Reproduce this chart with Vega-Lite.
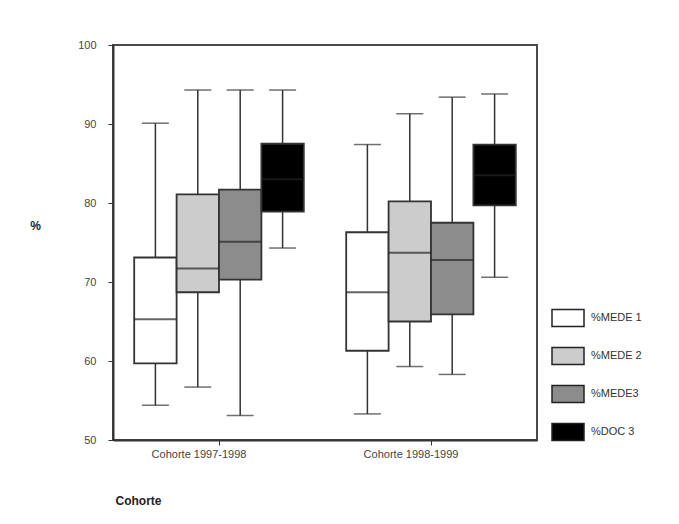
{
  "$schema": "https://vega.github.io/schema/vega-lite/v6.json",
  "width": 424,
  "height": 395,
  "autosize": {"type": "none"},
  "padding": {"left": 113, "top": 45, "right": 142, "bottom": 84},
  "background": "white",
  "config": {
    "font": "Liberation Sans",
    "view": {"stroke": "#4a4a4a", "strokeWidth": 2}
  },
  "data": {
    "values": [
      {"cohorte": "Cohorte 1997-1998", "serie": "%MEDE 1", "min": 54.4, "q1": 59.7, "median": 65.3, "q3": 73.1, "max": 90.1},
      {"cohorte": "Cohorte 1997-1998", "serie": "%MEDE 2", "min": 56.7, "q1": 68.7, "median": 71.7, "q3": 81.1, "max": 94.3},
      {"cohorte": "Cohorte 1997-1998", "serie": "%MEDE3", "min": 53.1, "q1": 70.3, "median": 75.1, "q3": 81.7, "max": 94.3},
      {"cohorte": "Cohorte 1997-1998", "serie": "%DOC 3", "min": 74.3, "q1": 78.9, "median": 83.0, "q3": 87.5, "max": 94.3},
      {"cohorte": "Cohorte 1998-1999", "serie": "%MEDE 1", "min": 53.3, "q1": 61.3, "median": 68.7, "q3": 76.3, "max": 87.4},
      {"cohorte": "Cohorte 1998-1999", "serie": "%MEDE 2", "min": 59.3, "q1": 65.0, "median": 73.7, "q3": 80.2, "max": 91.3},
      {"cohorte": "Cohorte 1998-1999", "serie": "%MEDE3", "min": 58.3, "q1": 65.9, "median": 72.8, "q3": 77.5, "max": 93.4},
      {"cohorte": "Cohorte 1998-1999", "serie": "%DOC 3", "min": 70.6, "q1": 79.7, "median": 83.5, "q3": 87.4, "max": 93.8}
    ]
  },
  "encoding": {
    "x": {
      "field": "cohorte",
      "type": "nominal",
      "scale": {"paddingInner": 0, "paddingOuter": 0},
      "axis": {
        "title": "Cohorte",
        "labelAngle": 0,
        "labelFontSize": 11,
        "labelColor": "#444",
        "labelOffset": -20,
        "labelPadding": 3,
        "tickSize": 5,
        "tickColor": "#333",
        "domainColor": "#333",
        "domainWidth": 2,
        "titleX": 2,
        "titleY": 60,
        "titleAlign": "left",
        "titleBaseline": "middle",
        "titleFontSize": 12,
        "titleFontWeight": "bold",
        "titleColor": "#222"
      }
    },
    "xOffset": {
      "field": "serie",
      "type": "nominal",
      "sort": ["%MEDE 1", "%MEDE 2", "%MEDE3", "%DOC 3"],
      "scale": {"paddingInner": 0, "paddingOuter": 0.5}
    }
  },
  "layer": [
    {
      "mark": {"type": "rule", "stroke": "#333", "strokeWidth": 1.5},
      "encoding": {
        "y": {
          "field": "min",
          "type": "quantitative",
          "title": "%",
          "scale": {"domain": [50, 100], "nice": false, "zero": false},
          "axis": {
            "values": [50, 60, 70, 80, 90, 100],
            "grid": false,
            "domainColor": "#333",
            "domainWidth": 2,
            "tickColor": "#333",
            "tickSize": 5,
            "labelFontSize": 11,
            "labelColor": "#444",
            "labelPadding": 12,
            "titleAngle": 0,
            "titleX": -78,
            "titleY": 180,
            "titleAlign": "center",
            "titleBaseline": "middle",
            "titleFontSize": 12,
            "titleFontWeight": "bold",
            "titleColor": "#222"
          }
        },
        "y2": {"field": "max"}
      }
    },
    {
      "mark": {"type": "bar", "stroke": "#333", "strokeWidth": 1.8},
      "encoding": {
        "y": {"field": "q1", "type": "quantitative", "title": "%"},
        "y2": {"field": "q3"},
        "fill": {
          "field": "serie",
          "type": "nominal",
          "sort": ["%MEDE 1", "%MEDE 2", "%MEDE3", "%DOC 3"],
          "scale": {
            "domain": ["%MEDE 1", "%MEDE 2", "%MEDE3", "%DOC 3"],
            "range": ["#ffffff", "#cccccc", "#8c8c8c", "#000000"]
          },
          "legend": {
            "orient": "none",
            "legendX": 438,
            "legendY": 256,
            "title": null,
            "symbolType": "M-1,-0.53H1V0.53H-1Z",
            "symbolSize": 1024,
            "symbolStrokeColor": "#222",
            "symbolStrokeWidth": 1.5,
            "rowPadding": 9,
            "labelFontSize": 11,
            "labelColor": "#333",
            "labelOffset": 6
          }
        }
      }
    },
    {
      "mark": {"type": "tick", "color": "#222", "thickness": 2, "size": 42},
      "encoding": {"y": {"field": "median", "type": "quantitative", "title": "%"}}
    },
    {
      "mark": {"type": "tick", "color": "#333", "thickness": 1.5, "size": 27},
      "encoding": {"y": {"field": "min", "type": "quantitative", "title": "%"}}
    },
    {
      "mark": {"type": "tick", "color": "#333", "thickness": 1.5, "size": 27},
      "encoding": {"y": {"field": "max", "type": "quantitative", "title": "%"}}
    }
  ]
}
